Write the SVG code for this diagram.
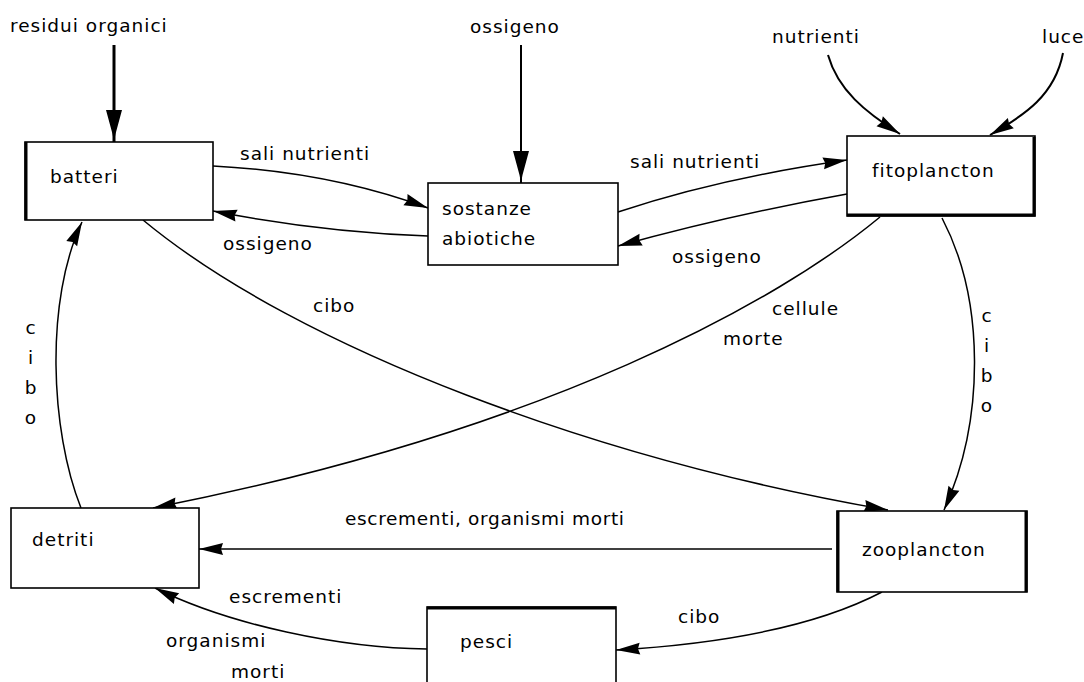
<svg xmlns="http://www.w3.org/2000/svg" width="1084" height="682" viewBox="0 0 1084 682">
<style>
text{font-family:"DejaVu Sans","Liberation Sans",sans-serif;font-size:18.5px;letter-spacing:1px;fill:#000}
.box{fill:#fff;stroke:#000;stroke-width:1.6}
.thick{stroke:#000;stroke-width:3;fill:none}
.c{fill:none;stroke:#000;stroke-width:1.5}
.cv{fill:none;stroke:#000;stroke-width:3}
.mid{text-anchor:middle}
</style>
<defs>
<marker id="a" viewBox="-26 -8 28 16" refX="0" refY="0" markerWidth="28" markerHeight="16" markerUnits="userSpaceOnUse" orient="auto">
<path d="M0,0 L-24,-6 L-22,0 L-24,6 Z" fill="#000"/>
</marker>
<marker id="av" viewBox="-34 -10 36 20" refX="0" refY="0" markerWidth="36" markerHeight="20" markerUnits="userSpaceOnUse" orient="auto">
<path d="M0,0 L-8,-1.5 L-32,-8 L-32,8 L-8,1.5 Z" fill="#000"/>
</marker>
</defs>
<rect width="1084" height="682" fill="#fff"/>
<g id="connectors">
<path class="cv" d="M114,45 L114,142" marker-end="url(#av)"/>
<path class="c" d="M521,45 L521,183" marker-end="url(#av)" style="stroke-width:2"/>
<path class="c" d="M828,55 C838,90 865,112 900,134" marker-end="url(#a)" style="stroke-width:2"/>
<path class="c" d="M1063,53 C1055,95 1025,115 990,135" marker-end="url(#a)" style="stroke-width:2"/>
<path class="c" d="M213,166 Q330,172 428,208" marker-end="url(#a)"/>
<path class="c" d="M428,236 Q320,232 213,211" marker-end="url(#a)"/>
<path class="c" d="M618,212 Q720,178 847,160" marker-end="url(#a)"/>
<path class="c" d="M847,194 Q730,215 618,246" marker-end="url(#a)"/>
<path class="c" d="M143,220 C300,350 600,460 888,510" marker-end="url(#a)"/>
<path class="c" d="M880,217 C780,300 550,430 153,508" marker-end="url(#a)"/>
<path class="c" d="M81,508 C50,430 45,300 82,222" marker-end="url(#a)"/>
<path class="c" d="M942,218 C985,300 985,420 944,510" marker-end="url(#a)"/>
<path class="c" d="M832,549 L199,549" marker-end="url(#a)"/>
<path class="c" d="M882,592 Q790,640 616,650" marker-end="url(#a)"/>
<path class="c" d="M427,649 C340,648 230,625 155,588" marker-end="url(#a)"/>
</g>
<g id="labels">
<text x="10" y="32">residui organici</text>
<text x="470" y="33">ossigeno</text>
<text x="772" y="43">nutrienti</text>
<text x="1042" y="43">luce</text>
<text x="240" y="160">sali nutrienti</text>
<text x="223" y="250">ossigeno</text>
<text x="630" y="168">sali nutrienti</text>
<text x="672" y="263">ossigeno</text>
<text x="313" y="312">cibo</text>
<text x="772" y="315">cellule</text>
<text x="723" y="345">morte</text>
<text class="mid" x="31" y="334">c</text>
<text class="mid" x="31" y="364">i</text>
<text class="mid" x="31" y="394">b</text>
<text class="mid" x="31" y="424">o</text>
<text class="mid" x="987" y="322">c</text>
<text class="mid" x="987" y="352">i</text>
<text class="mid" x="987" y="382">b</text>
<text class="mid" x="987" y="412">o</text>
<text x="345" y="525" textLength="280" lengthAdjust="spacing">escrementi, organismi morti</text>
<text x="229" y="603">escrementi</text>
<text x="166" y="647">organismi</text>
<text x="231" y="678">morti</text>
<text x="678" y="623">cibo</text>
</g>
<g id="batteri">
<rect class="box" x="25" y="142" width="188" height="78"/>
<line class="thick" x1="26" y1="142" x2="26" y2="220"/>
<text x="50" y="183">batteri</text>
</g>
<g id="sostanze">
<rect class="box" x="428" y="183" width="190" height="82"/>
<text x="442" y="215">sostanze</text>
<text x="442" y="245">abiotiche</text>
</g>
<g id="fitoplancton">
<rect class="box" x="847" y="136" width="188" height="80"/>
<polyline class="thick" points="1034,137 1034,215 847,215"/>
<text x="872" y="177">fitoplancton</text>
</g>
<g id="detriti">
<rect class="box" x="11" y="508" width="188" height="80"/>
<text x="32" y="546">detriti</text>
</g>
<g id="zooplancton">
<rect class="box" x="837" y="511" width="190" height="81"/>
<line class="thick" x1="838" y1="511" x2="838" y2="592"/>
<line class="thick" x1="1026" y1="511" x2="1026" y2="592"/>
<text x="862" y="556">zooplancton</text>
</g>
<g id="pesci">
<rect class="box" x="427" y="607" width="189" height="90"/>
<line class="thick" x1="427" y1="608" x2="616" y2="608"/>
<text x="460" y="648">pesci</text>
</g>
</svg>
